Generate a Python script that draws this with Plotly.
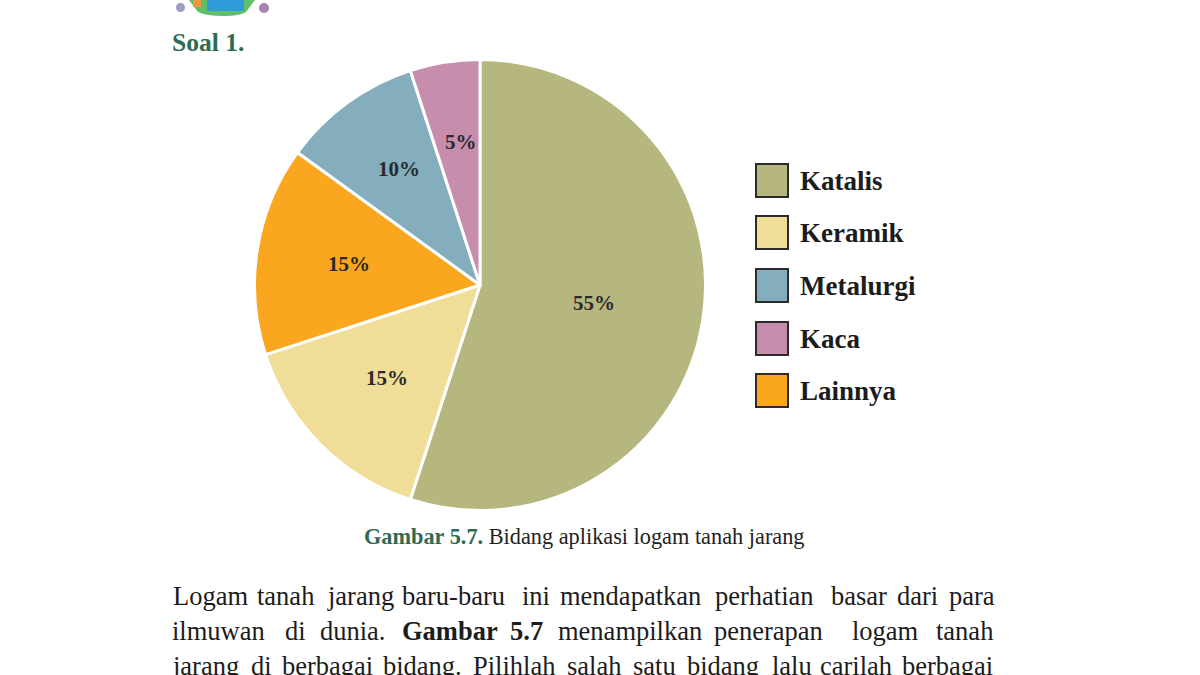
import math
import plotly.graph_objects as go

slice_labels = ["Katalis", "Keramik", "Lainnya", "Metalurgi", "Kaca"]
slice_values = [55, 15, 15, 10, 5]
slice_colors = ["#B6B77F", "#F0DD98", "#FAA61F", "#84ADBE", "#C68DAD"]
label_radius = [114, 131, 133, 143, 145]
label_nudge_x = [1, 0, 0, 3, 4]
legend_labels = ["Katalis", "Keramik", "Metalurgi", "Kaca", "Lainnya"]
legend_colors = ["#B6B77F", "#F0DD98", "#84ADBE", "#C68DAD", "#FAA61F"]
legend_y = [181, 233, 286, 339, 391]
caption_green = "Gambar 5.7."
caption_black = "Bidang aplikasi logam tanah jarang"
body_lines = [
    "Logam tanah jarang baru-baru ini mendapatkan perhatian basar dari para".split(),
    "ilmuwan di dunia. <b>Gambar</b> <b>5.7</b> menampilkan penerapan logam tanah".split(),
    "jarang di berbagai bidang. Pilihlah salah satu bidang lalu carilah berbagai".split(),
]
body_word_x = [
    [173, 257, 327, 402, 522, 560, 715, 831, 897, 949],
    [172, 285, 320, 402, 510, 558, 714, 852, 936],
    [172, 251, 282, 383, 473, 567, 633, 687, 772, 820, 902],
]
body_y = [596, 631, 666]
SERIF = "Liberation Serif"
W, H = 1200, 675
CX, CY, R = 480, 285, 225.5
PAD = -2  # annotation box padding compensation

fig = go.Figure(go.Pie(
    labels=slice_labels, values=slice_values, sort=False, direction="clockwise",
    rotation=0, marker=dict(colors=slice_colors, line=dict(color="white", width=3)),
    textinfo="none",
    domain=dict(x=[(CX-R)/W, (CX+R)/W], y=[1-(CY+R)/H, 1-(CY-R)/H]),
    showlegend=False, hoverinfo="label+percent",
))

shapes, ann = [], []

# percentage labels placed on each slice's mid-angle
total = sum(slice_values)
cum = 0
for v, r, dx in zip(slice_values, label_radius, label_nudge_x):
    ang = 2 * math.pi * (cum + v / 2) / total
    cum += v
    ann.append(dict(x=CX + r * math.sin(ang), y=CY - r * math.cos(ang), text=f"<b>{round(100*v/total)}%</b>",
                    xanchor="center", yanchor="middle", showarrow=False, xshift=dx,
                    font=dict(family=SERIF, size=21, color="#2a2a2a")))

for lab, col, y in zip(legend_labels, legend_colors, legend_y):
    shapes.append(dict(type="rect", x0=756, x1=788, y0=y-17, y1=y+16, fillcolor=col,
                       line=dict(color="#2b2b2b", width=2)))
    ann.append(dict(x=800, y=y, text=f"<b>{lab}</b>", xanchor="left", yanchor="middle", showarrow=False,
                    xshift=PAD, font=dict(family=SERIF, size=27, color="#1c1c1c")))

# header decoration
shapes += [
    dict(type="path", path="M 189 0 L 255 0 L 246 12 Q 240 16 224 16 Q 206 16 198 12 Z", fillcolor="#63BE6B", line=dict(width=0)),
    dict(type="rect", x0=193, x1=201, y0=0, y1=7, fillcolor="#E8973A", line=dict(width=0)),
    dict(type="rect", x0=207, x1=244, y0=0, y1=11, fillcolor="#2F9BD8", line=dict(width=0)),
    dict(type="circle", x0=176, x1=185, y0=3, y1=12, fillcolor="#9C9CC8", line=dict(width=0)),
    dict(type="circle", x0=259, x1=269, y0=3, y1=13, fillcolor="#A583B5", line=dict(width=0)),
]
ann.append(dict(x=172, y=42, text="<b>Soal 1.</b>", xanchor="left", yanchor="middle", showarrow=False,
                xshift=PAD, font=dict(family=SERIF, size=25.5, color="#2F6B52")))
ann.append(dict(x=364, y=536, text=f"<span style='color:#2F6B52'><b>{caption_green}</b></span> {caption_black}",
                xanchor="left", yanchor="middle", showarrow=False, xshift=PAD,
                font=dict(family=SERIF, size=22.3, color="#222")))

# justified body text
for words, xs, y in zip(body_lines, body_word_x, body_y):
    for w, x in zip(words, xs):
        ann.append(dict(x=x, y=y, text=w, xanchor="left", yanchor="middle", showarrow=False,
                        xshift=PAD, font=dict(family=SERIF, size=26.5, color="#1c1c1c")))

fig.update_layout(
    width=W, height=H, margin=dict(l=0, r=0, t=0, b=0), paper_bgcolor="white", plot_bgcolor="white",
    xaxis=dict(range=[0, W], visible=False, fixedrange=True, domain=[0, 1]),
    yaxis=dict(range=[H, 0], visible=False, fixedrange=True, domain=[0, 1]),
    shapes=[{**s, "xref": "x", "yref": "y", "layer": "above"} for s in shapes],
    annotations=[{**a, "xref": "x", "yref": "y"} for a in ann],
)
fig.add_trace(go.Scatter(x=[0, W], y=[0, H], mode="markers", marker=dict(opacity=0), showlegend=False, hoverinfo="skip"))
fig.write_html("out.html", post_script="document.body.style.margin='0';",
               config={"displayModeBar": False})
